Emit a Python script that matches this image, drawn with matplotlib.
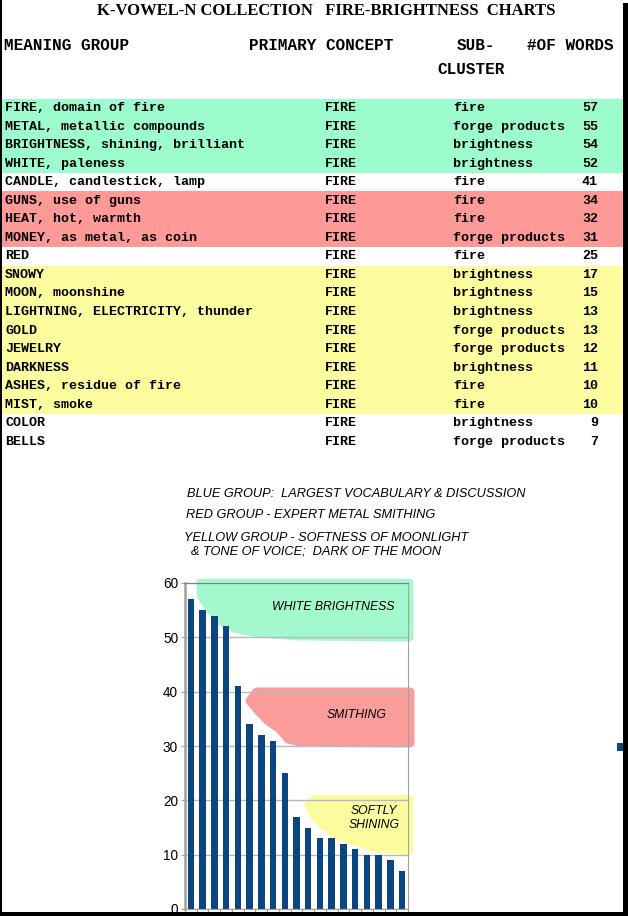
import matplotlib.pyplot as plt
from matplotlib.patches import Rectangle, Polygon

W, H = 628, 916

meaning = [
    "FIRE, domain of fire", "METAL, metallic compounds", "BRIGHTNESS, shining, brilliant",
    "WHITE, paleness", "CANDLE, candlestick, lamp", "GUNS, use of guns", "HEAT, hot, warmth",
    "MONEY, as metal, as coin", "RED", "SNOWY", "MOON, moonshine",
    "LIGHTNING, ELECTRICITY, thunder", "GOLD", "JEWELRY", "DARKNESS",
    "ASHES, residue of fire", "MIST, smoke", "COLOR", "BELLS",
]
concept = ["FIRE"] * 19
subcluster = [
    "fire", "forge products", "brightness", "brightness", "fire", "fire", "fire",
    "forge products", "fire", "brightness", "brightness", "brightness", "forge products",
    "forge products", "brightness", "fire", "fire", "brightness", "forge products",
]
words = [57, 55, 54, 52, 41, 34, 32, 31, 25, 17, 15, 13, 13, 12, 11, 10, 10, 9, 7]
group = ["blue"] * 4 + ["none"] + ["red"] * 3 + ["none"] + ["yellow"] * 8 + ["none"] * 2

notes = [
    "BLUE GROUP:  LARGEST VOCABULARY & DISCUSSION",
    "RED GROUP - EXPERT METAL SMITHING",
    "YELLOW GROUP - SOFTNESS OF MOONLIGHT",
    "  & TONE OF VOICE;  DARK OF THE MOON",
]

band_colors = {"blue": "#9dfccd", "red": "#fd9a98", "yellow": "#fdfd9f", "none": "white"}
bar_color = "#0b4681"


def fx(px):
    return px / W


def fy(py):
    return 1 - py / H


fig = plt.figure(figsize=(W / 100, H / 100), dpi=100)
fig.patch.set_facecolor("white")

# title and header
fig.text(fx(326), fy(11), "K-VOWEL-N COLLECTION   FIRE-BRIGHTNESS  CHARTS",
         family="Liberation Serif", weight="bold", fontsize=12, ha="center", va="center")
hdr = dict(family="Liberation Mono", weight="bold", fontsize=11.5, va="center")
fig.text(fx(4), fy(45), "MEANING GROUP", **hdr)
fig.text(fx(249), fy(45), "PRIMARY CONCEPT", **hdr)
fig.text(fx(457), fy(45), "SUB-", **hdr)
fig.text(fx(527), fy(45), "#OF WORDS", **hdr)
fig.text(fx(437), fy(69), "CLUSTER", **hdr)

# table rows
row0, step = 108, 18.55
cell = dict(family="Liberation Mono", weight="bold", fontsize=9.6, va="center")
for i in range(len(meaning)):
    yc = row0 + i * step
    fig.add_artist(Rectangle((fx(2), fy(yc + step / 2)), fx(621), step / H,
                             transform=fig.transFigure, facecolor=band_colors[group[i]],
                             edgecolor="none", zorder=0))
    fig.text(fx(5), fy(yc), meaning[i], **cell)
    fig.text(fx(325), fy(yc), concept[i], **cell)
    fig.text(fx(453), fy(yc), subcluster[i], **cell)
    fig.text(fx(598), fy(yc), str(words[i]), ha="right", **cell)

# notes
note_pos = [(187, 494), (186, 515), (184, 538), (184, 552)]
for (x, y), t in zip(note_pos, notes):
    fig.text(fx(x), fy(y), t, family="Liberation Sans", style="italic",
             fontsize=9.2, va="center")

# bar chart
ax = fig.add_axes([fx(185), fy(909), fx(408 - 185), (909 - 583) / H])
x = list(range(len(words)))

blobs = [
    ("#a3f9cd", [(0.8, 60), (18.6, 60), (18.6, 50), (9, 50.2), (5.5, 50.8), (3.8, 51.6),
                 (2.5, 53), (1.5, 55.5), (0.9, 57.5)]),
    ("#fa9c9a", [(5.6, 40), (18.7, 40), (18.7, 30.5), (9.5, 30.6), (8.3, 31.2), (7.5, 33.2),
                 (6.6, 34.5), (5.8, 36.3), (5.0, 38.3)]),
    ("#fcfc9e", [(10.5, 20.2), (18.6, 20.2), (18.6, 10.8), (16.3, 11.0), (14.5, 12.0),
                 (12.5, 13.5), (11.3, 15.3), (10.4, 17.5), (10.0, 19.2)]),
]
for col, pts in blobs:
    ax.add_patch(Polygon(pts, closed=True, facecolor=col, edgecolor=col, linewidth=6,
                         joinstyle="round", zorder=1, clip_on=False))

ax.bar(x, words, width=0.55, color=bar_color, zorder=3)
ax.set_xlim(-0.5, len(words) - 0.5)
ax.set_ylim(0, 60)
ax.set_yticks(range(0, 61, 10))
ax.yaxis.grid(True, color="#b3b8c6", linewidth=1.0, zorder=2)
ax.set_axisbelow(False)
for line in ax.get_ygridlines():
    line.set_zorder(2)
ax.set_xticks([i - 0.5 for i in range(len(words) + 1)])
ax.set_xticklabels([])
ax.tick_params(axis="x", length=4, color="#a0a0a0", direction="out")
ax.tick_params(axis="y", length=3, color="#a0a0a0", labelsize=9.8, pad=2)
for lab in ax.get_yticklabels():
    lab.set_family("Liberation Sans")
for s in ax.spines.values():
    s.set_color("#a0a0a0")
    s.set_zorder(4)
ax.spines["left"].set_linewidth(1.8)
ax.spines["top"].set_color("#808080")

lbl = dict(family="Liberation Sans", style="italic", fontsize=8.8, ha="center",
           va="center", zorder=5)
ax.text(12.1, 55.6, "WHITE BRIGHTNESS", **lbl)
ax.text(14.1, 35.7, "SMITHING", **lbl)
ax.text(15.6, 16.8, "SOFTLY\nSHINING", linespacing=1.2, **lbl)

# stray legend marker at right edge
fig.add_artist(Rectangle((fx(617), fy(751)), fx(8), 8 / H, transform=fig.transFigure,
                         facecolor=bar_color, edgecolor="none"))

# black frame pieces
for rx, ry, rw, rh in [(0, 0, 2, H), (623, 3, 5, H), (0, 912, W, 4)]:
    fig.add_artist(Rectangle((fx(rx), fy(ry + rh)), fx(rw), rh / H,
                             transform=fig.transFigure, facecolor="black",
                             edgecolor="none", zorder=10))

fig.savefig("out.png", dpi=100)
